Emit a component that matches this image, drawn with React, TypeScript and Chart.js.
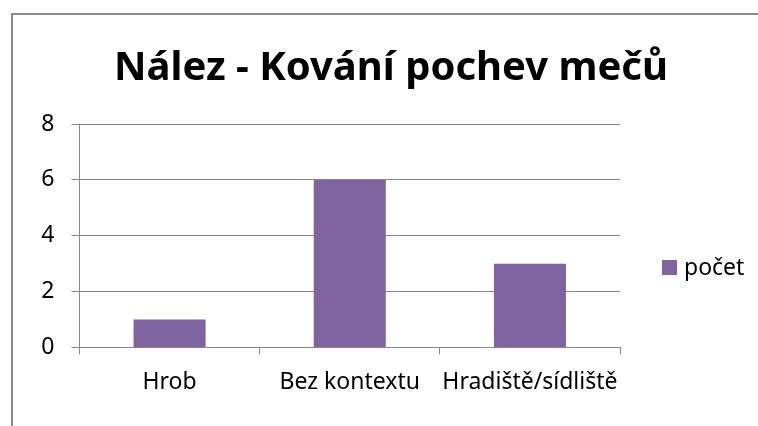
import React, { useEffect, useRef } from "react";
import { Chart, registerables } from "chart.js";

Chart.register(...registerables);

const chartTitle = "Nález - Kování pochev mečů";
const categories = ["Hrob", "Bez kontextu", "Hradiště/sídliště"];
const seriesLabel = "počet";
const seriesValues = [1, 6, 3];
const yMin = 0;
const yMax = 8;
const yStep = 2;

const FONT = "'Noto Sans', 'Open Sans', sans-serif";
const GRID = "#878787";
const BAR = "#8064A2";

const decorPlugin = {
  id: "decor",
  beforeDraw(chart: any) {
    const ctx = chart.ctx;
    ctx.save();
    ctx.fillStyle = "#ffffff";
    ctx.fillRect(0, 0, chart.width, chart.height);
    ctx.strokeStyle = "#8c8c8c";
    ctx.lineWidth = 2;
    ctx.strokeRect(12, 14, 900, 600);
    ctx.restore();
  },
  afterDraw(chart: any) {
    const ctx = chart.ctx;
    ctx.save();
    // title
    ctx.fillStyle = "#000";
    ctx.font = `bold 40px ${FONT}`;
    ctx.textAlign = "center";
    ctx.textBaseline = "alphabetic";
    ctx.fillText(chartTitle, 391, 80);
    // legend
    const ds = chart.data.datasets[0];
    ctx.fillStyle = ds.backgroundColor;
    ctx.fillRect(662, 260, 15, 15);
    ctx.fillStyle = "#000";
    ctx.font = `23px ${FONT}`;
    ctx.textAlign = "left";
    ctx.textBaseline = "middle";
    ctx.fillText(ds.label, 684, 268);
    ctx.restore();
  },
};

export default function App() {
  const ref = useRef<HTMLCanvasElement | null>(null);
  useEffect(() => {
    document.body.style.margin = "0";
    const canvas = ref.current!;
    const chart = new Chart(canvas, {
      type: "bar",
      data: {
        labels: categories,
        datasets: [
          {
            label: seriesLabel,
            data: seriesValues,
            backgroundColor: BAR,
            borderWidth: 0,
            categoryPercentage: 1,
            barPercentage: 0.4,
          },
        ],
      },
      options: {
        responsive: false,
        animation: false,
        devicePixelRatio: 1,
        layout: { padding: { left: 0, right: 138, top: 124, bottom: 0 } },
        plugins: {
          legend: { display: false },
          title: { display: false },
          tooltip: { enabled: false },
        },
        scales: {
          x: {
            grid: {
              display: true,
              drawOnChartArea: false,
              drawTicks: true,
              tickLength: 7,
              color: GRID,
              lineWidth: 1,
              offset: true,
            },
            border: { display: true, color: GRID, width: 1 },
            ticks: {
              color: "#000",
              font: { family: FONT, size: 23 },
              padding: 14,
              maxRotation: 0,
              autoSkip: false,
            },
            afterFit(scale: any) {
              scale.height = 426 - 347.5;
            },
          },
          y: {
            min: yMin,
            max: yMax,
            ticks: {
              stepSize: yStep,
              color: "#000",
              font: { family: FONT, size: 23 },
              padding: 17,
            },
            grid: {
              color: GRID,
              lineWidth: 1,
              drawTicks: true,
              tickLength: 8,
            },
            border: { display: true, color: GRID, width: 1 },
            afterFit(scale: any) {
              scale.width = 79.5;
            },
          },
        },
      },
      plugins: [decorPlugin],
    });
    return () => chart.destroy();
  }, []);
  return (
    <canvas
      ref={ref}
      width={758}
      height={426}
      style={{ display: "block", width: 758, height: 426 }}
    />
  );
}
